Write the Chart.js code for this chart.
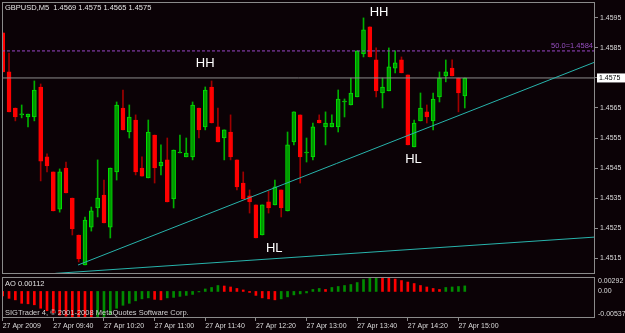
<!DOCTYPE html>
<html>
<head>
<meta charset="utf-8">
<script src="https://cdn.jsdelivr.net/npm/chart.js@4.4.1/dist/chart.umd.min.js"></script>
<style>
  html, body { margin: 0; padding: 0; background: #0b0206; }
  #wrap { position: relative; width: 625px; height: 333px; overflow: hidden; }
  #mainBox { position: absolute; left: 0; top: 0; width: 625px; height: 277px; }
  #aoBox { position: absolute; left: 0; top: 275px; width: 625px; height: 58px; }
</style>
</head>
<body>
<div id="wrap">
  <div id="mainBox"><canvas id="mainChart" width="625" height="277"></canvas></div>
  <div id="aoBox"><canvas id="aoChart" width="625" height="58"></canvas></div>
</div>
<script>
// GBPUSD M5, 27 Apr 2009, one bar every 5 minutes from 09:00
var symbolTitle = "GBPUSD,M5";

var openP = [
    1.4590, 1.4577, 1.4565, 1.45627, 1.4562, 1.4562, 1.4572, 1.45487, 1.45437, 1.45313,
    1.4545, 1.4535, 1.45227, 1.45127, 1.45253, 1.45317, 1.4536, 1.45253, 1.45437, 1.4565,
    1.4557, 1.4561, 1.4545, 1.45417, 1.4556, 1.45457, 1.45477, 1.45347, 1.4550, 1.45487,
    1.45487, 1.4565, 1.45587, 1.4572, 1.45587, 1.4555, 1.4557, 1.45477, 1.4540, 1.45357,
    1.45327, 1.45227, 1.45337, 1.45327, 1.45377, 1.45307, 1.45537, 1.45627, 1.4550, 1.45487,
    1.4561, 1.45587, 1.45587, 1.45587, 1.4567, 1.4566, 1.45687, 1.4583, 1.4592, 1.4581,
    1.4570, 1.45707, 1.45783, 1.4581, 1.4576, 1.4552, 1.45607, 1.45637, 1.45607, 1.45687,
    1.45757, 1.45783, 1.4575, 1.4569
];
var highP = [
    1.4590, 1.45833, 1.4565, 1.4566, 1.4563, 1.4574, 1.4573, 1.45497, 1.45437, 1.45447,
    1.4547, 1.4535, 1.45227, 1.45287, 1.4532, 1.45477, 1.4541, 1.4545, 1.4567, 1.4571,
    1.4566, 1.45627, 1.45487, 1.4561, 1.4556, 1.45527, 1.4555, 1.4551, 1.4556, 1.4555,
    1.4567, 1.4565, 1.4572, 1.4574, 1.4565, 1.45577, 1.45627, 1.45477, 1.45437, 1.45377,
    1.45327, 1.45327, 1.45373, 1.4541, 1.45377, 1.4557, 1.45637, 1.45627, 1.4555, 1.4560,
    1.45627, 1.45637, 1.45627, 1.4571, 1.4568, 1.4575, 1.4584, 1.4595, 1.4592, 1.4585,
    1.4575, 1.4585, 1.4584, 1.4582, 1.4576, 1.4561, 1.4570, 1.4566, 1.4570, 1.4577,
    1.4581, 1.4581, 1.4575, 1.4575
];
var lowP = [
    1.4577, 1.45637, 1.45607, 1.45617, 1.45587, 1.45607, 1.45407, 1.45437, 1.45307, 1.45303,
    1.45367, 1.45227, 1.45137, 1.45127, 1.4524, 1.45287, 1.45267, 1.45217, 1.4541, 1.45577,
    1.4555, 1.45427, 1.45423, 1.45417, 1.4540, 1.45427, 1.45337, 1.45317, 1.4550, 1.45487,
    1.45477, 1.4555, 1.45577, 1.4560, 1.45537, 1.45477, 1.45477, 1.45377, 1.45347, 1.4530,
    1.45217, 1.45227, 1.4530, 1.45327, 1.45287, 1.45307, 1.45527, 1.4540, 1.4547, 1.45477,
    1.4560, 1.45527, 1.45587, 1.4557, 1.4562, 1.4566, 1.45687, 1.4582, 1.4582, 1.45687,
    1.4565, 1.45707, 1.45767, 1.45767, 1.45527, 1.4552, 1.45607, 1.4560, 1.45577, 1.4567,
    1.45737, 1.45757, 1.45637, 1.4565
];
var closeP = [
    1.4577, 1.45637, 1.4562, 1.45627, 1.4563, 1.4571, 1.45473, 1.45457, 1.45307, 1.45437,
    1.45367, 1.45247, 1.45147, 1.45277, 1.45307, 1.4535, 1.45267, 1.4545, 1.4566, 1.45577,
    1.4562, 1.45437, 1.45423, 1.4557, 1.4545, 1.4547, 1.45337, 1.4551, 1.4550, 1.4550,
    1.4566, 1.45577, 1.4571, 1.4560, 1.45537, 1.45577, 1.45487, 1.45387, 1.45347, 1.45337,
    1.45217, 1.45327, 1.45317, 1.45387, 1.45317, 1.45527, 1.45637, 1.45487, 1.4550, 1.45587,
    1.4560, 1.4560, 1.4560, 1.4568, 1.4567, 1.4570, 1.4584, 1.4591, 1.4582, 1.45707,
    1.4572, 1.45787, 1.4580, 1.45767, 1.45527, 1.4560, 1.4565, 1.4562, 1.4568, 1.4575,
    1.4577, 1.45757, 1.4570, 1.4575
];

// Awesome Oscillator, one value per bar
var aoName = "AO";
var aoValues = [
    -0.0009, -0.0014, -0.0017, -0.0024, -0.0025, -0.0027, -0.0034, -0.0039, -0.0043, -0.0048,
    -0.0050, -0.0052, -0.0053, -0.00535, -0.00537, -0.0053, -0.0051, -0.0047, -0.0034, -0.0028,
    -0.0024, -0.0019, -0.0015, -0.0013, -0.0016, -0.0017, -0.0013, -0.0012, -0.0010, -0.0008,
    -0.0006, -0.0001, 0.0005, 0.0008, 0.0012, 0.0011, 0.0009, 0.0006, 0.0003, -0.0002,
    -0.0008, -0.0013, -0.0015, -0.0017, -0.0015, -0.0011, -0.0007, -0.0005, -0.0003, 0.0004,
    0.0006, 0.0004, 0.0008, 0.0010, 0.0012, 0.0014, 0.0018, 0.0024, 0.0028, 0.00292,
    0.0029, 0.0027, 0.0025, 0.0022, 0.0019, 0.0016, 0.0012, 0.0009, 0.0006, 0.0004,
    0.0008, 0.0009, 0.0010, 0.00112
];
var aoAxisValues = [0.00292, 0, -0.00537];

// time axis: a label every 8 bars
var timeTickBars = [0, 8, 16, 24, 32, 40, 48, 56, 64, 72];
var timeLabels = [
    "27 Apr 2009", "27 Apr 09:40", "27 Apr 10:20", "27 Apr 11:00", "27 Apr 11:40",
    "27 Apr 12:20", "27 Apr 13:00", "27 Apr 13:40", "27 Apr 14:20", "27 Apr 15:00"
];

// price axis
var priceTicks = [1.4515, 1.4525, 1.4535, 1.4545, 1.4555, 1.4565, 1.4575, 1.4585, 1.4595];

// objects drawn on the chart
var fibName = "50.0";
var fibLevel = 1.4584;
var trendA = [{ x: 11.9, y: 1.45127 }, { x: 93.57, y: 1.45803 }];
var trendB = [{ x: 8.3, y: 1.45099 }, { x: 93.57, y: 1.4522 }];
var markText = ["HH", "HH", "HL", "HL"];
var markBar = [32, 59.45, 42.9, 64.9];
var markPrice = [1.4580, 1.45968, 1.45183, 1.45477];

var copyrightText = "SIGTrader 4, \u00a9 2001-2008 MetaQuotes Software Corp.";

// view window
var xMin = -0.11, xMax = 93.57;
var yMin = 1.45097, yMax = 1.46003;

Chart.defaults.font.family = "'Liberation Sans', Arial, sans-serif";

var lastBar = closeP.length - 1;
var lastClose = closeP[lastBar];

function isUp(i) {
    return closeP[i] >= openP[i];
}

var wickData = openP.map((o, i) => ({ x: i, y: [lowP[i], highP[i]] }));
var bodyData = openP.map((o, i) => ({ x: i, y: [o, closeP[i]] }));

var mainDecor = {
    id: "mainDecor",
    afterDraw: function (chart) {
        var c = chart.ctx, a = chart.chartArea;
        var xs = chart.scales.x, ys = chart.scales.y;
        c.save();

        // HH / HL marks
        c.fillStyle = "#ffffff";
        c.font = "13px 'Liberation Sans'";
        c.textAlign = "center";
        c.textBaseline = "middle";
        for (var k = 0; k < markText.length; k++) {
            c.fillText(markText[k], xs.getPixelForValue(markBar[k]), ys.getPixelForValue(markPrice[k]));
        }

        // fibo label
        c.font = "7.5px 'Liberation Sans'";
        c.fillStyle = "#9650c0";
        c.textAlign = "right";
        c.textBaseline = "bottom";
        c.fillText(fibName + "=" + fibLevel.toFixed(4), a.right - 2, ys.getPixelForValue(fibLevel) - 1);

        // header
        c.fillStyle = "#e4e4e4";
        c.textAlign = "left";
        c.textBaseline = "middle";
        var ohlc = [openP[lastBar], highP[lastBar], lowP[lastBar], closeP[lastBar]].map((v) => v.toFixed(4));
        c.fillText(symbolTitle + "  " + ohlc.join(" "), 5, a.top + 6);

        // frame
        c.strokeStyle = "#8a8a8a";
        c.lineWidth = 1;
        c.strokeRect(a.left + 0.5, a.top + 0.5, a.right - a.left - 1, a.bottom - a.top - 1);

        // current price box
        var py = ys.getPixelForValue(lastClose);
        c.fillStyle = "#ffffff";
        c.fillRect(a.right + 2, py - 4.5, 28, 9);
        c.fillStyle = "#000000";
        c.font = "7px 'Liberation Sans'";
        c.fillText(lastClose.toFixed(4), a.right + 4, py);
        c.restore();
    },
};

new Chart(document.getElementById("mainChart"), {
    type: "bar",
    data: {
        datasets: [
            {
                data: wickData,
                barThickness: 1,
                grouped: false,
                order: 3,
                backgroundColor: (ctx) => (isUp(ctx.dataIndex) ? "#00b000" : "#a00000"),
                borderWidth: 0,
            },
            {
                data: bodyData,
                barThickness: 4,
                grouped: false,
                order: 2,
                minBarLength: 1,
                borderSkipped: false,
                backgroundColor: (ctx) => (isUp(ctx.dataIndex) ? "#009800" : "#ff0000"),
                borderColor: (ctx) => (isUp(ctx.dataIndex) ? "#00e000" : "#ff0000"),
                borderWidth: 1,
            },
            {
                type: "line",
                data: [{ x: xMin, y: lastClose }, { x: xMax, y: lastClose }],
                borderColor: "#8c8c8c",
                borderWidth: 1,
                pointRadius: 0,
                order: 1,
            },
            {
                type: "line",
                data: [{ x: xMin, y: fibLevel }, { x: xMax, y: fibLevel }],
                borderColor: "#9a48c8",
                borderWidth: 1,
                borderDash: [3, 2],
                pointRadius: 0,
                order: 1,
            },
            {
                type: "line",
                data: trendA,
                borderColor: "#28b4ac",
                borderWidth: 1,
                pointRadius: 0,
                order: 0,
            },
            {
                type: "line",
                data: trendB,
                borderColor: "#28b4ac",
                borderWidth: 1,
                pointRadius: 0,
                order: 0,
            },
        ],
    },
    options: {
        responsive: false,
        animation: false,
        devicePixelRatio: 1,
        layout: { padding: { left: 2, top: 2, right: 0, bottom: 3 } },
        plugins: { legend: { display: false }, tooltip: { enabled: false } },
        scales: {
            x: { type: "linear", display: false, min: xMin, max: xMax, offset: false },
            y: {
                position: "right",
                min: yMin,
                max: yMax,
                afterBuildTicks: (s) => {
                    s.ticks = priceTicks.map((v) => ({ value: v }));
                },
                afterFit: (s) => {
                    s.width = 30;
                    s.paddingTop = 0;
                    s.paddingBottom = 0;
                },
                ticks: {
                    callback: (v) => v.toFixed(4),
                    padding: 2,
                    color: "#dcdcdc",
                    font: { size: 7 },
                },
                grid: { drawOnChartArea: false, tickLength: 3, color: "#8a8a8a", offset: false },
                border: { display: false },
            },
        },
    },
    plugins: [mainDecor],
});

//-------------
//- AO WINDOW -
//-------------
var aoDecor = {
    id: "aoDecor",
    afterDraw: function (chart) {
        var c = chart.ctx, a = chart.chartArea, ys = chart.scales.y;
        c.save();
        c.font = "7.5px 'Liberation Sans'";
        c.fillStyle = "#e0e0e0";
        c.textAlign = "left";
        c.textBaseline = "middle";
        c.fillText(aoName + " " + aoValues[aoValues.length - 1].toFixed(5), 5, a.top + 7);
        c.fillStyle = "#d0d0d0";
        c.fillText(copyrightText, 5, a.bottom - 5);
        c.fillStyle = "#dcdcdc";
        c.font = "7px 'Liberation Sans'";
        aoAxisValues.forEach((v) => {
            var y = Math.min(Math.max(ys.getPixelForValue(v), a.top + 4), a.bottom - 4);
            c.fillText(v === 0 ? "0.00" : v.toFixed(5), a.right + 3, y);
        });
        c.strokeStyle = "#8a8a8a";
        c.lineWidth = 1;
        c.strokeRect(a.left + 0.5, a.top + 0.5, a.right - a.left - 1, a.bottom - a.top - 1);
        c.restore();
    },
};

new Chart(document.getElementById("aoChart"), {
    type: "bar",
    data: {
        datasets: [
            {
                data: aoValues.map((v, i) => ({ x: i, y: v })),
                barThickness: 2,
                backgroundColor: (ctx) =>
                    ctx.dataIndex > 0 && aoValues[ctx.dataIndex] > aoValues[ctx.dataIndex - 1] ? "#008c00" : "#ff0000",
                borderWidth: 0,
            },
        ],
    },
    options: {
        responsive: false,
        animation: false,
        devicePixelRatio: 1,
        layout: { padding: { left: 2, top: 2, right: 30, bottom: 0 } },
        plugins: { legend: { display: false }, tooltip: { enabled: false } },
        scales: {
            x: {
                type: "linear",
                min: xMin,
                max: xMax,
                offset: false,
                afterBuildTicks: (s) => {
                    s.ticks = timeTickBars.map((v) => ({ value: v }));
                },
                afterFit: (s) => {
                    s.height = 15;
                    s.paddingLeft = 0;
                    s.paddingRight = 0;
                },
                ticks: {
                    autoSkip: false,
                    maxRotation: 0,
                    align: "start",
                    padding: 1,
                    color: "#dcdcdc",
                    font: { size: 7 },
                    callback: (v, i) => timeLabels[i],
                },
                grid: { drawOnChartArea: false, tickLength: 3, color: "#8a8a8a", offset: false },
                border: { display: false },
            },
            y: {
                display: false,
                min: Math.min(...aoAxisValues),
                max: Math.max(...aoAxisValues),
            },
        },
    },
    plugins: [aoDecor],
});
</script>
</body>
</html>
